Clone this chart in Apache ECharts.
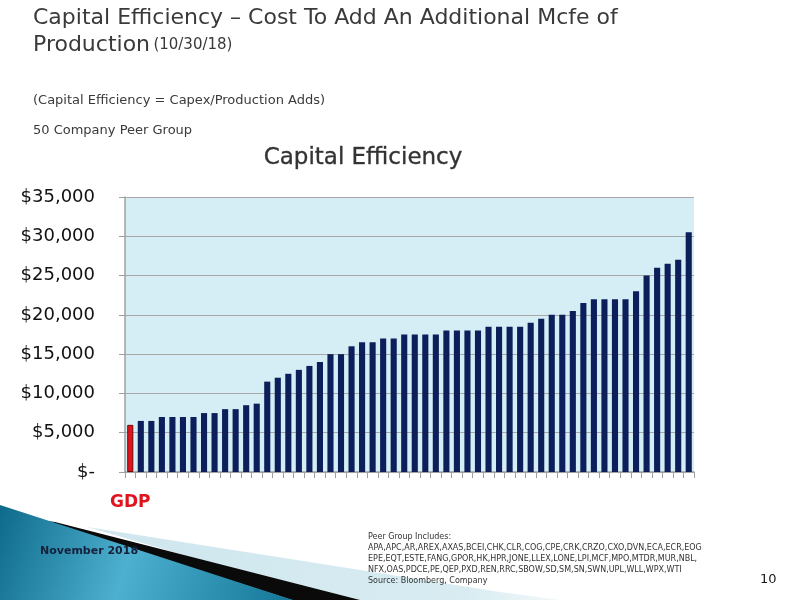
<!DOCTYPE html>
<html>
<head>
<meta charset="utf-8">
<script src="https://cdn.jsdelivr.net/npm/echarts@6/dist/echarts.min.js"></script>
<style>html,body{margin:0;padding:0;background:#fff}#c{width:800px;height:600px}</style>
</head>
<body>
<div id="c"></div>
<script>
const categories = ["GDP","P1","P2","P3","P4","P5","P6","P7","P8","P9","P10","P11","P12","P13","P14","P15","P16","P17","P18","P19","P20","P21","P22","P23","P24","P25","P26","P27","P28","P29","P30","P31","P32","P33","P34","P35","P36","P37","P38","P39","P40","P41","P42","P43","P44","P45","P46","P47","P48","P49","P50","P51","P52","P53"];
const values = [6000,6500,6500,7000,7000,7000,7000,7500,7500,8000,8000,8500,8700,11500,12000,12500,13000,13500,14000,15000,15000,16000,16500,16500,17000,17000,17500,17500,17500,17500,18000,18000,18000,18000,18500,18500,18500,18500,19000,19500,20000,20000,20500,21500,22000,22000,22000,22000,23000,25000,26000,26500,27000,30500];
const yTicks = [0,5000,10000,15000,20000,25000,30000,35000];
const highlight = "GDP";

const chart = echarts.init(document.getElementById('c'), null, {renderer:'canvas'});
const font = "'DejaVu Sans', sans-serif";
chart.setOption({
  animation:false,
  backgroundColor:'#ffffff',
  graphic:[
    {type:'polygon', z:-10, shape:{points:[[87,527],[500,592],[560,600],[340,600]]},
      style:{fill:new echarts.graphic.LinearGradient(0,0,1,0,[{offset:0,color:'#cfe6ee'},{offset:0.8,color:'#d8ecf2'},{offset:1,color:'#f2f8fa'}])}},
    {type:'polygon', z:-9, shape:{points:[[55,522],[360,600],[292,600],[40,520]]}, style:{fill:'#0a0a0a'}},
    {type:'polygon', z:-8, shape:{points:[[0,505],[293,600],[0,600]]},
      style:{fill:new echarts.graphic.LinearGradient(0,0,1,1,[{offset:0,color:'#0e6a8a'},{offset:0.45,color:'#4eb0d0'},{offset:1,color:'#147696'}])}},
    {type:'text', left:33, top:7, style:{text:'Capital Efficiency – Cost To Add An Additional Mcfe of', font:"22px 'DejaVu Sans', sans-serif", fill:'#3a3a3a'}},
    {type:'text', left:33, top:34, style:{text:'{a|Production} {b|(10/30/18)}', rich:{a:{fontSize:22,fontFamily:font,fill:'#3a3a3a'},b:{fontSize:15,fontFamily:font,fill:'#3a3a3a'}}}},
    {type:'text', left:33, top:94, style:{text:'(Capital Efficiency = Capex/Production Adds)', font:"13px 'DejaVu Sans', sans-serif", fill:'#3a3a3a'}},
    {type:'text', left:33, top:124, style:{text:'50 Company Peer Group', font:"13px 'DejaVu Sans', sans-serif", fill:'#3a3a3a'}},
    {type:'text', left:40, top:546, style:{text:'November 2018', font:"bold 11px 'DejaVu Sans', sans-serif", fill:'#16203a'}},
    {type:'text', left:760, top:573, style:{text:'10', font:"13px 'DejaVu Sans', sans-serif", fill:'#1a1a1a'}},
    {type:'text', left:368, top:531, style:{text:'Peer Group Includes:\nAPA,APC,AR,AREX,AXAS,BCEI,CHK,CLR,COG,CPE,CRK,CRZO,CXO,DVN,ECA,ECR,EOG\nEPE,EQT,ESTE,FANG,GPOR,HK,HPR,JONE,LLEX,LONE,LPI,MCF,MPO,MTDR,MUR,NBL,\nNFX,OAS,PDCE,PE,QEP,PXD,REN,RRC,SBOW,SD,SM,SN,SWN,UPL,WLL,WPX,WTI\nSource: Bloomberg, Company', font:"8px 'DejaVu Sans', sans-serif", fill:'#333333', lineHeight:11.2}}
  ],
  title:{text:'Capital Efficiency', left:358, top:142, textAlign:'center',
    textStyle:{fontFamily:font, fontSize:23, fontWeight:'normal', color:'#333333', textBorderColor:'#555', textBorderWidth:0.4}},
  grid:{left:125, right:106, top:197, bottom:128, show:true, backgroundColor:'#d5eef6', borderWidth:0},
  xAxis:{type:'category', data:categories,
    axisLine:{lineStyle:{color:'#a0a0a0', width:1.5}},
    axisTick:{show:true, length:6, lineStyle:{color:'#a0a0a0'}},
    axisLabel:{interval:0, margin:22, formatter:v => v===highlight ? v : '', color:'#e0141e', fontFamily:font, fontSize:17, fontWeight:'bold'}},
  yAxis:{type:'value', min:0, max:35000, interval:5000,
    axisLine:{show:true, lineStyle:{color:'#a0a0a0', width:1.5}},
    axisTick:{show:true, length:6, lineStyle:{color:'#a0a0a0'}},
    splitLine:{lineStyle:{color:'#a8a8a8', width:1.2}},
    axisLabel:{margin:30, color:'#111111', fontFamily:font, fontSize:18,
      formatter:v => yTicks.includes(v) ? (v===0 ? '$-' : '$' + v.toLocaleString('en-US')) : ''}},
  series:[{type:'bar', barWidth:'58%',
    data: values.map((v,i) => categories[i]===highlight
      ? {value:v, itemStyle:{color:'#e3121c', borderColor:'#6a0a0a', borderWidth:1}}
      : {value:v, itemStyle:{color:'#0c1f5a'}})}]
});
</script>
</body>
</html>
